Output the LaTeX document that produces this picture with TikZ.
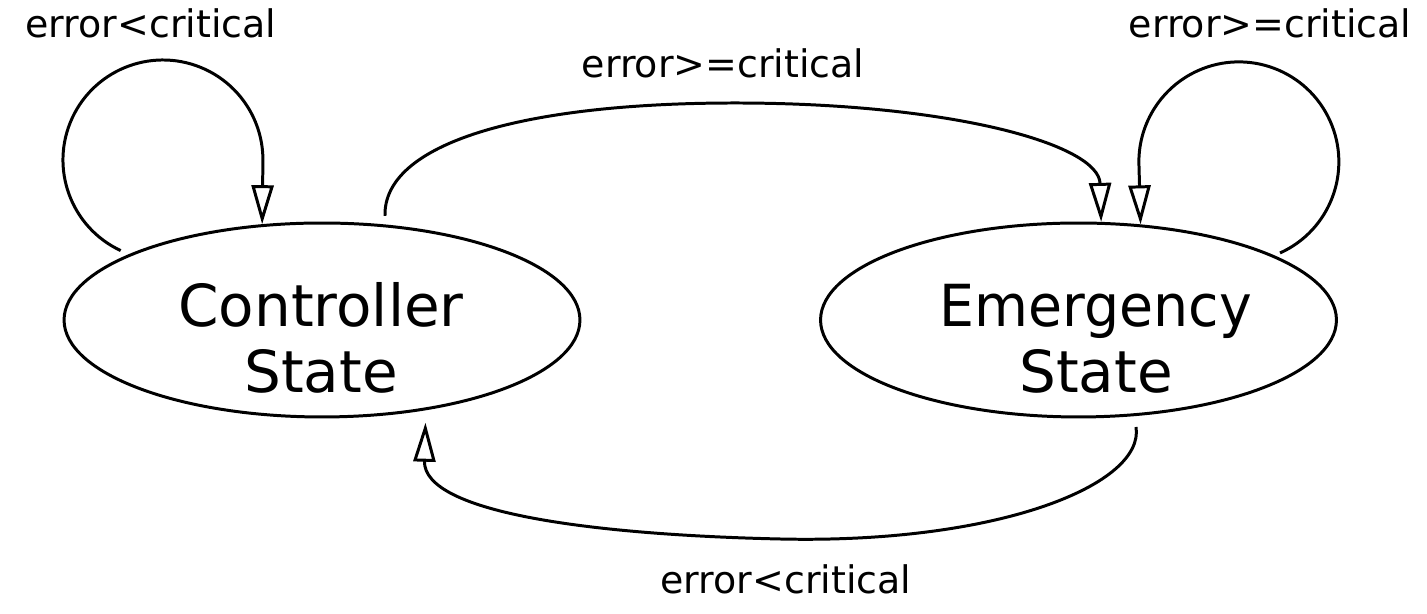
\documentclass[tikz,border=0pt]{standalone}
\usepackage{fontspec}
\setmainfont{DejaVu Sans}
\newfontfamily\narrowdv[FakeStretch=0.955]{DejaVu Sans}
\usetikzlibrary{shapes.geometric,arrows.meta}
\begin{document}
\begin{tikzpicture}[x=0.02cm,y=0.02cm,
  statebox/.style={draw,ellipse,line width=1.7pt,minimum width=10.32cm,minimum height=3.88cm,inner sep=0pt},
  statetext/.style={inner sep=0pt,align=center,font=\fontsize{33}{37.5}\selectfont},
  lbl/.style={inner sep=0pt,anchor=base,font=\fontsize{21.6}{26}\selectfont},
  edge/.style={line width=1.7pt,-{Triangle[open,length=0.78cm,width=0.44cm]}}]
\useasboundingbox (0,0) rectangle (1427,614);
\node[statebox] (ctrl) at (322,294) {};
\node[statebox] (emer) at (1078.5,294) {};
\node[statetext] (ctrlt) at (321,276) {Controller\\State};
\node[statetext] (emert) at (1096,275.5) {{\narrowdv Emergency}\\State};
% start points of the connectors (small gaps to the ellipses)
\coordinate (l1s) at (120.7,363.4);
\coordinate (l2s) at (1280,361);
\coordinate (ts) at (385,398);
\coordinate (bs) at (1136,187);
% self loop on Controller
\draw[edge] (l1s) arc[start angle=245,end angle=0,radius=2cm] -- (ctrl.122.4);
% self loop on Emergency
\draw[edge] (l2s) arc[start angle=-65.7,end angle=180,radius=2cm] -- (emer.57.6);
% Controller -> Emergency
\draw[edge] (ts) .. controls (383,470) and (520,511) .. (735,511)
  .. controls (950,511) and (1099,470) .. (emer.77);
% Emergency -> Controller
\draw[edge,shorten >=0.25cm] (bs) .. controls (1145,130) and (1000,70) .. (780,75)
  .. controls (600,79) and (423,100) .. (ctrl.-41.5);
% labels
\node[lbl] (la) at (151,576) {error<critical};
\node[lbl] (lb) at (723,536) {error>=critical};
\node[lbl] (lc) at (1270,576) {error>=critical};
\node[lbl] (ld) at (786,20) {error<critical};
\end{tikzpicture}
\end{document}
